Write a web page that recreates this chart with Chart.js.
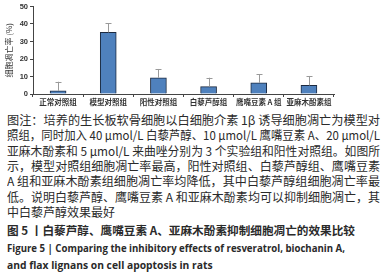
<!DOCTYPE html>
<html>
<head>
<meta charset="utf-8">
<script src="https://cdn.jsdelivr.net/npm/chart.js@4"></script>
<style>
  html,body{margin:0;padding:0;background:#fff;}
  body{width:384px;height:274px;position:relative;overflow:hidden;
       font-family:"Noto Sans CJK SC","Noto Sans",sans-serif;color:#2a2a2a;}
  #wrap{position:absolute;left:0;top:0;width:384px;height:108px;}
  .ln{position:absolute;left:7px;font-size:12px;line-height:15px;white-space:nowrap;transform-origin:0 50%;}
  .cap{font-weight:bold;font-size:11.5px;}
  .en{font-family:"Open Sans","Noto Sans",sans-serif;font-weight:bold;font-size:10.3px;}
</style>
</head>
<body>
<div id="wrap"><canvas id="c"></canvas></div>
<div id="txt"></div>
<script>
/* ---------- Data ---------- */
const groups   = ['正常对照组','模型对照组','阳性对照组','白藜芦醇组','鹰嘴豆素 A 组','亚麻木酚素组'];
const rates    = [1.8, 35.2, 9.3, 4.2, 6.4, 4.9];
const errUp    = [5.2, 5.3, 5.0, 5.1, 5.0, 5.4];
const yTicks   = [0, 10, 20, 30, 40, 50];

const noteLines = [
  '图注：培养的生长板软骨细胞以白细胞介素 1β 诱导细胞凋亡为模型对',
  '照组，同时加入 40 μmol/L 白藜芦醇、10 μmol/L 鹰嘴豆素 A、20 μmol/L',
  '亚麻木酚素和 5 μmol/L 来曲唑分别为 3 个实验组和阳性对照组。如图所',
  '示，模型对照组细胞凋亡率最高，阳性对照组、白藜芦醇组、鹰嘴豆素',
  'A 组和亚麻木酚素组细胞凋亡率均降低，其中白藜芦醇组细胞凋亡率最',
  '低。说明白藜芦醇、鹰嘴豆素 A 和亚麻木酚素均可以抑制细胞凋亡，其',
  '中白藜芦醇效果最好'
];
const capCn = '图 5 丨白藜芦醇、鹰嘴豆素 A、亚麻木酚素抑制细胞凋亡的效果比较';
const capEn = ['Figure 5  |  Comparing the inhibitory effects of resveratrol, biochanin A,',
               'and flax lignans on cell apoptosis in rats'];

/* ---------- Caption text ---------- */
const txt = document.getElementById('txt');
const addLine = (s, cls, y, fitW)=>{
  const d = document.createElement('div');
  d.className = 'ln ' + cls;
  d.style.top = y + 'px';
  d.textContent = s;
  txt.appendChild(d);
  if (fitW) {
    const w = d.getBoundingClientRect().width;
    d.style.transform = `scaleX(${fitW / w})`;
  }
  return d;
};
let lineY = 112;
noteLines.forEach((s,i)=>{
  addLine(s, '', lineY, i < noteLines.length-1 ? 373 : 0);
  lineY += 15.3;
});
addLine(capCn, 'cap', lineY + 4, 348);
capEn.forEach((s,i)=> addLine(s, 'en', lineY + 21.5 + i*17, i===0 ? 338 : 0));

/* ---------- Error bars (upper only) ---------- */
const errorBars = {
  id:'errorBars',
  afterDatasetsDraw(chart){
    const {ctx, scales:{x, y}} = chart;
    ctx.save();
    ctx.strokeStyle = '#9a9a9a';
    ctx.lineWidth = 1;
    rates.forEach((v,i)=>{
      const px = Math.round(x.getPixelForValue(i)) + 0.5;
      const y0 = y.getPixelForValue(v);
      const y1 = y.getPixelForValue(v + errUp[i]);
      ctx.beginPath();
      ctx.moveTo(px, y0); ctx.lineTo(px, y1);
      ctx.moveTo(px-3, Math.round(y1)+0.5); ctx.lineTo(px+3, Math.round(y1)+0.5);
      ctx.stroke();
    });
    ctx.restore();
  }
};

/* ---------- Chart ---------- */
new Chart(document.getElementById('c'), {
  type:'bar',
  data:{
    labels: groups,
    datasets:[{
      data: rates,
      backgroundColor:'#4f81bd',
      borderColor:'#1c2a40',
      borderWidth:1,
      barThickness:16
    }]
  },
  options:{
    responsive:true,
    maintainAspectRatio:false,
    animation:false,
    layout:{ padding:{ left:4, top:4, right:50, bottom:0 } },
    plugins:{ legend:{display:false}, tooltip:{enabled:false} },
    scales:{
      x:{
        offset:true,
        grid:{ display:true, drawOnChartArea:false, offset:true, tickLength:3, color:'#444' },
        border:{ color:'#444', width:1 },
        ticks:{ autoSkip:false, maxRotation:0, minRotation:0, padding:1,
                font:{ size:7.5, weight:'bold', family:'"Noto Sans CJK SC"' }, color:'#333' }
      },
      y:{
        min:0, max:50,
        afterBuildTicks:(s)=>{ s.ticks = yTicks.map(v=>({value:v})); },
        afterFit:(s)=>{ s.width = 29; },
        grid:{ display:true, drawOnChartArea:false, tickLength:3, color:'#444' },
        border:{ color:'#444', width:1 },
        ticks:{ padding:2, font:{ size:7.5, weight:'bold', family:'"Liberation Sans"' }, color:'#333' },
        title:{ display:true, text:'细胞凋亡率 (%)', padding:0,
                font:{ size:8, family:'"Noto Sans CJK SC"' }, color:'#333' }
      }
    }
  },
  plugins:[errorBars]
});
</script>
</body>
</html>
